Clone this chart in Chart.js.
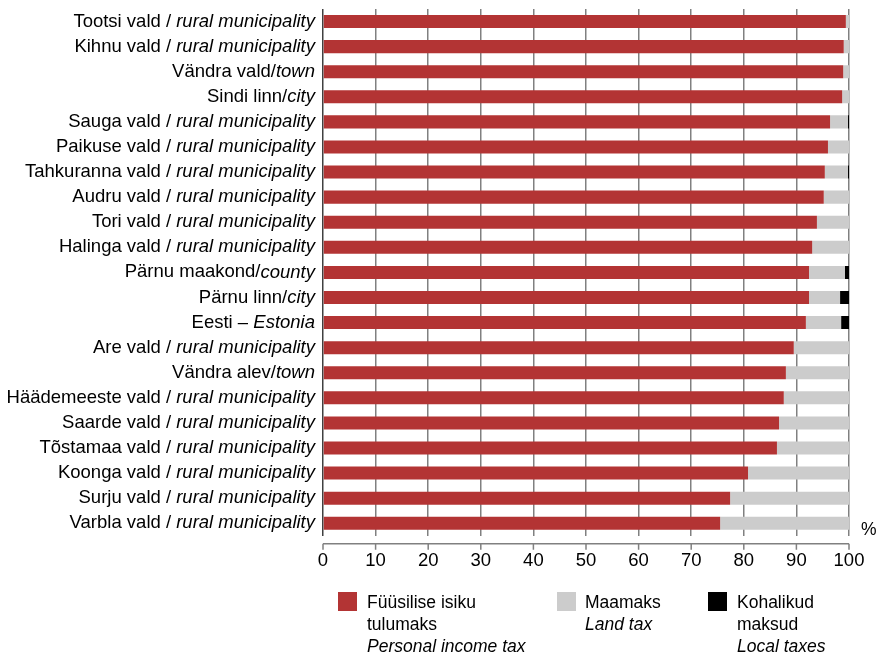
<!DOCTYPE html>
<html>
<head>
<meta charset="utf-8">
<script src="https://cdn.jsdelivr.net/npm/chart.js@4/dist/chart.umd.min.js"></script>
<style>
  body { margin: 0; background: #fff; font-family: "Liberation Sans", Arial, sans-serif; }
  #wrap { position: relative; width: 877px; height: 654px; }
  #chart { position: absolute; left: 0; top: 0; }
  .leg { position: absolute; top: 591px; font-size: 17.5px; line-height: 22px; color: #000; }
  .leg .box { position: absolute; left: 0; top: 1px; width: 19px; height: 19px; }
  .leg .txt { position: absolute; top: 0; white-space: nowrap; }
  .leg i { font-style: italic; }
</style>
</head>
<body>
<div id="wrap">
  <canvas id="chart" width="877" height="593"></canvas>
  <div class="leg" style="left:338px"><div class="box" style="background:#b33434"></div><div class="txt" style="left:29px">Füüsilise isiku<br>tulumaks<br><i>Personal income tax</i></div></div>
  <div class="leg" style="left:557px"><div class="box" style="background:#cccccc"></div><div class="txt" style="left:28px">Maamaks<br><i>Land tax</i></div></div>
  <div class="leg" style="left:708px"><div class="box" style="background:#000000"></div><div class="txt" style="left:29px">Kohalikud<br>maksud<br><i>Local taxes</i></div></div>
</div>
<script>
// label parts: [plain, italic]
const labelsPlain = ["Tootsi vald / ", "Kihnu vald / ", "Vändra vald/", "Sindi linn/", "Sauga vald / ",
  "Paikuse vald / ", "Tahkuranna vald / ", "Audru vald / ", "Tori vald / ", "Halinga vald / ",
  "Pärnu maakond/", "Pärnu linn/", "Eesti – ", "Are vald / ", "Vändra alev/",
  "Häädemeeste vald / ", "Saarde vald / ", "Tõstamaa vald / ", "Koonga vald / ", "Surju vald / ",
  "Varbla vald / "];
const labelsItalic = ["rural municipality", "rural municipality", "town", "city", "rural municipality",
  "rural municipality", "rural municipality", "rural municipality", "rural municipality", "rural municipality",
  "county", "city", "Estonia", "rural municipality", "town",
  "rural municipality", "rural municipality", "rural municipality", "rural municipality", "rural municipality",
  "rural municipality"];

const incomeTax = [99.4, 99.0, 98.9, 98.7, 96.4, 96.0, 95.4, 95.2, 93.9, 93.0,
  92.4, 92.4, 91.8, 89.5, 88.0, 87.6, 86.7, 86.3, 80.8, 77.4, 75.5];
const landTax = [0.6, 1.0, 1.1, 1.3, 3.4, 4.0, 4.4, 4.8, 6.1, 7.0,
  6.8, 5.9, 6.7, 10.5, 12.0, 12.4, 13.3, 13.7, 19.2, 22.6, 24.5];
const localTaxes = [0, 0, 0, 0, 0.2, 0, 0.2, 0, 0, 0,
  0.8, 1.7, 1.5, 0, 0, 0, 0, 0, 0, 0, 0];

const xTicks = [0, 10, 20, 30, 40, 50, 60, 70, 80, 90, 100];

const font = '"Liberation Sans", Arial, sans-serif';

const labelPlugin = {
  id: 'labels',
  afterDraw(c) {
    const ctx = c.ctx;
    const y = c.scales.y;
    const x = c.scales.x;
    const area = c.chartArea;
    ctx.save();
    ctx.fillStyle = '#000';
    ctx.textBaseline = 'middle';
    labelsPlain.forEach((p, i) => {
      const py = y.getPixelForValue(i);
      ctx.font = 'italic 18.5px ' + font;
      const wi = ctx.measureText(labelsItalic[i]).width;
      const right = area.left - 8;
      ctx.textAlign = 'right';
      ctx.fillText(labelsItalic[i], right, py);
      ctx.font = '18.5px ' + font;
      ctx.fillText(p, right - wi, py);
    });
    ctx.font = '17.5px ' + font;
    ctx.textAlign = 'left';
    ctx.fillText('%', area.right + 12, area.bottom - 6);

    // detached x axis line with tick marks
    const ay = area.bottom + 8;
    ctx.strokeStyle = '#808080';
    ctx.lineWidth = 1.5;
    ctx.beginPath();
    ctx.moveTo(area.left, ay);
    ctx.lineTo(area.right, ay);
    xTicks.forEach(v => {
      const px = x.getPixelForValue(v);
      ctx.moveTo(px, ay);
      ctx.lineTo(px, ay + 6);
    });
    ctx.stroke();
    ctx.restore();
  }
};

new Chart(document.getElementById('chart'), {
  type: 'bar',
  data: {
    labels: labelsPlain.map((p, i) => p + labelsItalic[i]),
    datasets: [
      { label: 'Füüsilise isiku tulumaks', data: incomeTax, backgroundColor: '#b33434' },
      { label: 'Maamaks', data: landTax, backgroundColor: '#cccccc' },
      { label: 'Kohalikud maksud', data: localTaxes, backgroundColor: '#000000' }
    ]
  },
  options: {
    indexAxis: 'y',
    responsive: false,
    animation: false,
    events: [],
    datasets: { bar: { categoryPercentage: 1, barPercentage: 0.52 } },
    layout: { padding: { left: 323, right: 28, top: 9, bottom: 7 } },
    plugins: { legend: { display: false }, tooltip: { enabled: false } },
    scales: {
      x: {
        stacked: true,
        min: 0, max: 100,
        afterBuildTicks: s => { s.ticks = xTicks.map(v => ({ value: v })); },
        afterFit: s => { s.paddingLeft = 0; s.paddingRight = 0; },
        grid: {
          color: ctx => ctx.tick && ctx.tick.value === 0 ? '#404040' : '#808080',
          lineWidth: 1.5,
          drawTicks: false
        },
        border: { display: false },
        ticks: { color: '#000', font: { family: font, size: 18.5 }, padding: 14 }
      },
      y: {
        stacked: true,
        display: false
      }
    }
  },
  plugins: [labelPlugin]
});
</script>
</body>
</html>
